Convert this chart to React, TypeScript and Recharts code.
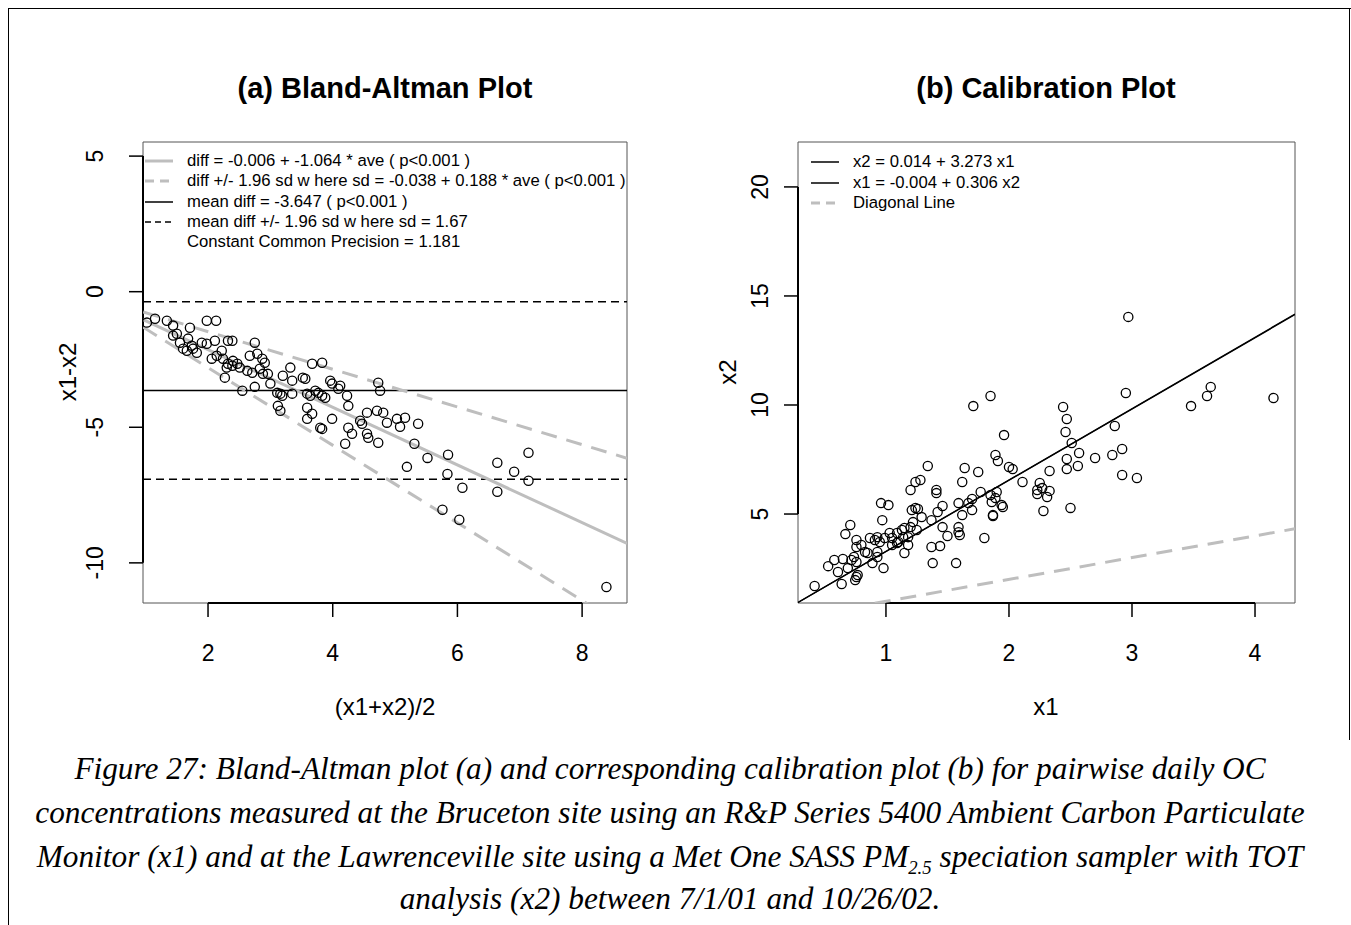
import React from "react";
import { ScatterChart, Scatter, XAxis, YAxis, ReferenceLine, ReferenceArea } from "recharts";

const SANS = '"Liberation Sans", Arial, sans-serif';
const SERIF = '"Liberation Serif", "Times New Roman", serif';
const GRAY = "#bebebe";

// (a) Bland-Altman: average and difference of each daily pair
const baAve = [
  1.02, 1.15, 1.34, 1.44, 1.5, 1.44, 1.71, 1.68, 1.74, 1.76,
  1.9, 1.98, 1.98, 2.13, 2.11, 2.32, 2.39, 2.06, 2.14, 2.22,
  2.24, 2.32, 2.4, 2.47, 2.51, 2.75, 2.67, 2.79, 2.87, 2.91,
  2.27, 2.55, 2.75, 2.63, 2.71, 2.83, 2.88, 2.39, 2.3, 1.6,
  1.66, 1.55, 1.82, 2.96, 3.0, 3.32, 3.2, 3.35, 3.52, 3.56,
  3.67, 3.83, 3.11, 3.16, 3.19, 3.12, 3.16, 3.35, 3.59, 3.64,
  3.72, 3.77, 3.83, 3.88, 3.59, 3.67, 3.59, 3.96, 3.99, 4.12,
  4.09, 4.23, 4.25, 3.99, 3.8, 3.83, 4.2, 4.25, 4.31, 4.44,
  4.47, 4.55, 4.71, 4.81, 4.55, 4.57, 4.73, 4.73, 4.76, 4.87,
  5.03, 5.08, 5.16, 5.37, 5.31, 5.52, 5.19, 5.85, 5.84, 6.08,
  5.76, 6.03, 6.64, 6.91, 7.14, 7.14, 6.64, 8.39,
];
const baDiff = [
  -1.14, -1.0, -1.07, -1.25, -1.55, -1.62, -1.33, -1.73, -1.99, -2.1,
  -1.88, -1.92, -1.07, -1.07, -1.81, -1.81, -1.81, -2.47, -2.36, -2.18,
  -2.47, -2.66, -2.55, -2.66, -2.8, -1.88, -2.36, -2.29, -2.47, -2.62,
  -3.17, -3.65, -3.51, -2.92, -2.99, -2.84, -3.03, -2.73, -2.8, -2.1,
  -2.18, -1.88, -2.25, -3.03, -3.39, -2.8, -3.1, -3.28, -3.17, -3.21,
  -2.66, -2.62, -3.73, -3.76, -3.84, -4.21, -4.39, -3.76, -3.76, -3.84,
  -3.65, -3.73, -3.84, -3.91, -4.28, -4.5, -4.69, -3.28, -3.39, -3.47,
  -3.58, -3.84, -4.21, -4.69, -5.02, -5.06, -5.61, -5.02, -5.24, -4.76,
  -4.87, -4.46, -4.39, -4.46, -5.24, -5.39, -5.57, -3.36, -3.65, -4.83,
  -4.69, -4.98, -4.65, -4.87, -5.61, -6.13, -6.46, -6.01, -6.72, -7.23,
  -8.04, -8.41, -6.31, -6.64, -5.94, -6.97, -7.38, -10.89,
];

// fitted lines, read at the two ends of the x range
const baLineAve = [0.96, 8.72];
const baFitDiff = [-1.03, -9.28];
const baUpperDiff = [-0.75, -6.14];
const baLowerDiff = [-1.31, -12.42];
const baMeanDiff = -3.647;
const baLimitDiffs = [-0.374, -6.92];

const baXTicks = [2, 4, 6, 8];
const baYTicks = [-10, -5, 0, 5];

// (b) Calibration
const calX1 = [
  0.42, 0.64, 0.53, 0.58, 0.65, 0.61, 0.69, 0.72, 0.74, 0.76,
  0.76, 0.77, 0.75, 0.67, 0.71, 0.76, 0.76, 0.8, 0.83, 0.87,
  0.91, 0.93, 0.95, 0.99, 0.85, 0.89, 0.93, 0.93, 0.98, 0.97,
  0.96, 1.02, 1.03, 1.05, 1.09, 1.1, 1.13, 1.14, 1.15, 1.18,
  1.05, 1.09, 1.15, 1.18, 1.2, 1.24, 1.28, 1.34, 1.41, 1.41,
  1.21, 1.24, 1.26, 1.29, 1.22, 1.25, 1.2, 1.37, 1.42, 1.46,
  1.46, 1.5, 1.37, 1.44, 1.38, 1.57, 1.59, 1.64, 1.62, 1.75,
  1.59, 1.59, 1.6, 1.62, 1.7, 1.7, 1.67, 1.77, 1.85, 1.86,
  1.87, 1.8, 1.89, 1.91, 1.96, 2.0, 2.03, 2.11, 2.33, 2.25,
  2.23, 2.23, 2.27, 2.33, 2.31, 2.28, 2.5, 1.9, 1.89, 1.94,
  1.95, 1.87, 2.44, 2.47, 2.46, 2.51, 2.86, 2.57, 2.47, 2.47,
  2.56, 2.7, 2.84, 2.92, 2.92, 3.04, 2.95, 2.97, 3.48, 3.61,
  3.64, 4.15, 1.85, 1.71,
];
const calX2 = [
  1.7, 1.79, 2.61, 2.89, 2.94, 2.34, 2.52, 2.89, 3.03, 2.8,
  2.11, 2.2, 1.97, 4.08, 4.5, 3.81, 3.49, 3.58, 3.26, 3.9,
  3.81, 3.94, 3.72, 3.9, 3.21, 2.75, 3.03, 3.26, 2.52, 4.72,
  5.5, 5.41, 4.13, 3.9, 4.13, 3.72, 4.27, 3.94, 4.36, 3.94,
  3.58, 3.67, 3.21, 3.58, 6.1, 6.47, 6.56, 7.2, 6.1, 5.96,
  5.18, 5.28, 5.23, 4.86, 4.63, 4.27, 4.4, 4.72, 5.09, 5.37,
  4.4, 3.99, 3.49, 3.53, 2.75, 2.75, 5.5, 7.11, 6.47, 6.93,
  4.4, 4.17, 4.04, 4.95, 5.18, 5.69, 5.5, 6.01, 5.87, 5.55,
  4.95, 3.9, 7.71, 7.43, 8.62, 7.16, 7.06, 6.47, 6.97, 6.42,
  6.1, 5.92, 6.19, 6.06, 5.78, 5.14, 5.28, 6.01, 5.73, 5.41,
  5.32, 4.91, 9.91, 9.36, 8.76, 8.26, 9.04, 7.8, 7.52, 7.06,
  7.2, 7.57, 7.71, 7.98, 6.79, 6.65, 10.55, 14.04, 9.95, 10.41,
  10.83, 10.32, 10.41, 9.95,
];

const calLineX1 = [0.285, 4.325];
const calFitX2 = [0.947, 14.17];
const calInvX2 = [0.944, 14.147];
const calDiagX2 = [0.285, 4.325];

const calXTicks = [1, 2, 3, 4];
const calYTicks = [5, 10, 15, 20];

const baXDomain: [number, number] = [0.957, 8.72];
const baYDomain: [number, number] = [-11.48, 5.52];
const calXDomain: [number, number] = [0.285, 4.325];
const calYDomain: [number, number] = [0.92, 22.06];

const baLegend = [
  { label: "diff = -0.006 + -1.064 * ave ( p<0.001 )", stroke: GRAY, width: 3, dash: "" },
  { label: "diff +/- 1.96 sd w here sd = -0.038 + 0.188 * ave ( p<0.001 )", stroke: GRAY, width: 3, dash: "9 6" },
  { label: "mean diff = -3.647 ( p<0.001 )", stroke: "#000", width: 1.5, dash: "" },
  { label: "mean diff +/- 1.96 sd w here sd = 1.67", stroke: "#000", width: 1.5, dash: "6 4" },
  { label: "Constant Common Precision = 1.181", stroke: "none", width: 0, dash: "" },
];
const calLegend = [
  { label: "x2 = 0.014 + 3.273 x1", stroke: "#000", width: 1.5, dash: "" },
  { label: "x1 = -0.004 + 0.306 x2", stroke: "#000", width: 1.5, dash: "" },
  { label: "Diagonal Line", stroke: GRAY, width: 3, dash: "9 6" },
];

const zip = (xs: number[], ys: number[]) => xs.map((x, i) => ({ x, y: ys[i] }));

const ring = (p: any) => (
  <circle cx={p.cx} cy={p.cy} r={4.6} fill="none" stroke="#000" strokeWidth={1.3} />
);
const noDot = () => <g />;

function VTick(props: any) {
  const { x, y, payload } = props;
  return (
    <text x={x} y={y} dy="0.35em" textAnchor="middle" transform={`rotate(-90 ${x} ${y})`}
      fontSize={23} fontFamily={SANS} fill="#000">
      {payload.value}
    </text>
  );
}

const tickStyle = { fontSize: 23, fill: "#000", fontFamily: SANS };
const tickLine = { stroke: "#000", strokeWidth: 1.5 };

function Legend({ items, left, top, gap }: { items: typeof baLegend; left: number; top: number; gap: number }) {
  return (
    <>
      {items.map((it, i) => (
        <div key={i} style={{ position: "absolute", left, top: top + i * gap - 10, height: 20, display: "flex", alignItems: "center", whiteSpace: "nowrap", fontFamily: SANS, fontSize: 16.7 }}>
          <svg width={28} height={20} style={{ marginRight: 14 }}>
            {it.stroke !== "none" && (
              <line x1={0} y1={10} x2={28} y2={10} stroke={it.stroke} strokeWidth={it.width} strokeDasharray={it.dash || undefined} />
            )}
          </svg>
          <span>{it.label}</span>
        </div>
      ))}
    </>
  );
}

function Label({ text, x, y, size, bold, rotate }: { text: string; x: number; y: number; size: number; bold?: boolean; rotate?: boolean }) {
  return (
    <div style={{ position: "absolute", left: x - 200, top: y - 20, width: 400, height: 40, lineHeight: "40px", textAlign: "center", fontFamily: SANS, fontSize: size, fontWeight: bold ? "bold" : "normal", whiteSpace: "nowrap", transform: rotate ? "rotate(-90deg)" : undefined }}>
      {text}
    </div>
  );
}

function BlandAltman() {
  return (
    <ScatterChart width={640} height={650} margin={{ top: 42, right: 53, bottom: 87, left: 43 }}>
      <XAxis type="number" dataKey="x" domain={baXDomain} ticks={baXTicks} interval={0} allowDataOverflow
        axisLine={false} tickLine={tickLine} tickSize={14} tickMargin={28} height={60} tick={tickStyle} />
      <YAxis type="number" dataKey="y" domain={baYDomain} ticks={baYTicks} interval={0} allowDataOverflow
        axisLine={false} tickLine={tickLine} tickSize={14} tickMargin={34} width={60} tick={<VTick />} />
      <ReferenceArea x1={baXDomain[0]} x2={baXDomain[1]} y1={baYDomain[0]} y2={baYDomain[1]}
        fill="none" stroke="#555" strokeWidth={1} ifOverflow="visible" />
      <ReferenceLine segment={[{ x: 2, y: baYDomain[0] }, { x: 8, y: baYDomain[0] }]} stroke="#000" strokeWidth={2} ifOverflow="visible" />
      <ReferenceLine segment={[{ x: baXDomain[0], y: -10 }, { x: baXDomain[0], y: 5 }]} stroke="#000" strokeWidth={2} ifOverflow="visible" />
      <ReferenceLine y={baMeanDiff} stroke="#000" strokeWidth={1.5} />
      {baLimitDiffs.map((v) => (
        <ReferenceLine key={v} y={v} stroke="#000" strokeWidth={1.5} strokeDasharray="8 5" />
      ))}
      <Scatter data={zip(baLineAve, baFitDiff)} shape={noDot} line={{ stroke: GRAY, strokeWidth: 3 }} isAnimationActive={false} />
      <Scatter data={zip(baLineAve, baUpperDiff)} shape={noDot} line={{ stroke: GRAY, strokeWidth: 3, strokeDasharray: "16 10" }} isAnimationActive={false} />
      <Scatter data={zip(baLineAve, baLowerDiff)} shape={noDot} line={{ stroke: GRAY, strokeWidth: 3, strokeDasharray: "16 10" }} isAnimationActive={false} />
      <Scatter data={zip(baAve, baDiff)} shape={ring} isAnimationActive={false} />
    </ScatterChart>
  );
}

function Calibration() {
  return (
    <ScatterChart width={640} height={650} margin={{ top: 42, right: 45, bottom: 87, left: 38 }}>
      <XAxis type="number" dataKey="x" domain={calXDomain} ticks={calXTicks} interval={0} allowDataOverflow
        axisLine={false} tickLine={tickLine} tickSize={14} tickMargin={28} height={60} tick={tickStyle} />
      <YAxis type="number" dataKey="y" domain={calYDomain} ticks={calYTicks} interval={0} allowDataOverflow
        axisLine={false} tickLine={tickLine} tickSize={14} tickMargin={24} width={60} tick={<VTick />} />
      <ReferenceArea x1={calXDomain[0]} x2={calXDomain[1]} y1={calYDomain[0]} y2={calYDomain[1]}
        fill="none" stroke="#555" strokeWidth={1} ifOverflow="visible" />
      <ReferenceLine segment={[{ x: 1, y: calYDomain[0] }, { x: 4, y: calYDomain[0] }]} stroke="#000" strokeWidth={2} ifOverflow="visible" />
      <ReferenceLine segment={[{ x: calXDomain[0], y: 5 }, { x: calXDomain[0], y: 20 }]} stroke="#000" strokeWidth={2} ifOverflow="visible" />
      <Scatter data={zip(calLineX1, calDiagX2)} shape={noDot} line={{ stroke: GRAY, strokeWidth: 3, strokeDasharray: "16 10" }} isAnimationActive={false} />
      <Scatter data={zip(calLineX1, calFitX2)} shape={noDot} line={{ stroke: "#000", strokeWidth: 1.3 }} isAnimationActive={false} />
      <Scatter data={zip(calLineX1, calInvX2)} shape={noDot} line={{ stroke: "#000", strokeWidth: 1.3 }} isAnimationActive={false} />
      <Scatter data={zip(calX1, calX2)} shape={ring} isAnimationActive={false} />
    </ScatterChart>
  );
}

const captionLines = [
  <>Figure 27: Bland-Altman plot (a) and corresponding calibration plot (b) for pairwise daily OC</>,
  <>concentrations measured at the Bruceton site using an R&amp;P Series 5400 Ambient Carbon Particulate</>,
  <>Monitor (x1) and at the Lawrenceville site using a Met One SASS PM<sub style={{ fontSize: "0.6em" }}>2.5</sub> speciation sampler with TOT</>,
  <>analysis (x2) between 7/1/01 and 10/26/02.</>,
];
const captionY = [769, 813, 857, 899];

export default function App() {
  return (
    <div style={{ position: "fixed", left: 0, top: 0, width: 1351, height: 925, background: "#fff", overflow: "hidden" }}>
      <div style={{ position: "absolute", left: 8, top: 8, width: 1343, height: 917, borderTop: "1px solid #000", borderLeft: "1px solid #000" }} />
      <div style={{ position: "absolute", left: 1349, top: 8, width: 1, height: 732, background: "#000" }} />

      <div style={{ position: "absolute", left: 40, top: 100 }}><BlandAltman /></div>
      <div style={{ position: "absolute", left: 700, top: 100 }}><Calibration /></div>

      <Label text="(a) Bland-Altman Plot" x={385} y={88} size={29} bold />
      <Label text="(b) Calibration Plot" x={1046} y={88} size={29} bold />
      <Label text="(x1+x2)/2" x={385} y={707} size={24} />
      <Label text="x1" x={1046} y={707} size={24} />
      <Label text="x1-x2" x={68} y={372} size={24} rotate />
      <Label text="x2" x={728} y={372} size={24} rotate />

      <Legend items={baLegend} left={145} top={161} gap={20.3} />
      <Legend items={calLegend} left={811} top={162} gap={20.5} />

      {captionLines.map((line, i) => (
        <div key={i} style={{ position: "absolute", left: 0, width: 1340, top: captionY[i] - 20, height: 40, lineHeight: "40px", textAlign: "center", fontFamily: SERIF, fontStyle: "italic", fontSize: 31.3, whiteSpace: "nowrap" }}>
          {line}
        </div>
      ))}
    </div>
  );
}
